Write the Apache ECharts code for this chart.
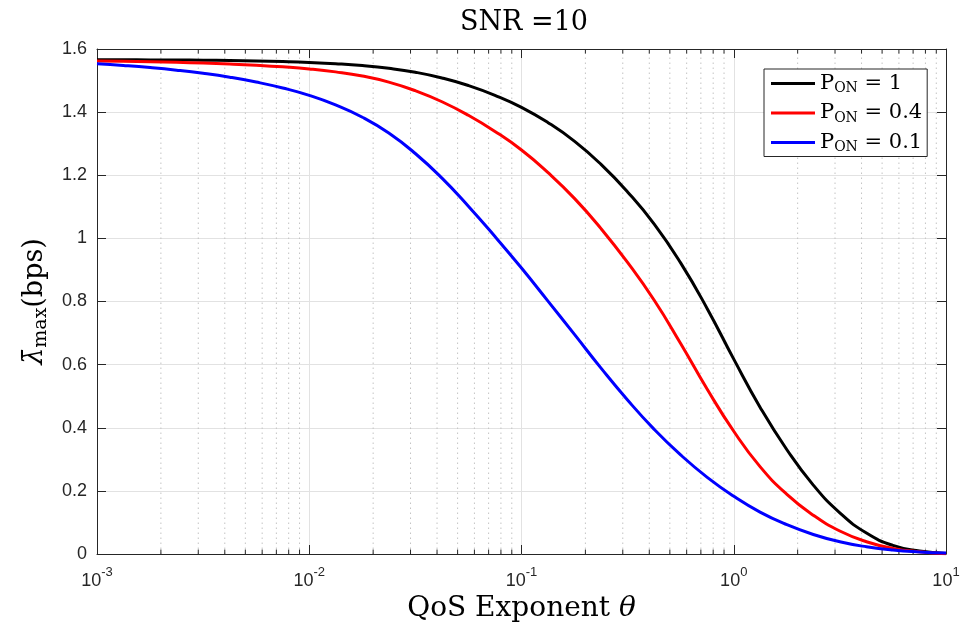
<!DOCTYPE html>
<html><head><meta charset="utf-8">
<script src="https://cdn.jsdelivr.net/npm/echarts@6/dist/echarts.min.js"></script>
<style>html,body{margin:0;padding:0;background:#fff}#c{width:966px;height:632px}</style>
</head><body><div id="c"></div>
<script>
// QoS exponent theta (x values, log axis, 8 points per decade)
const theta = [0.001, 0.00133, 0.00178, 0.00237, 0.00316, 0.00422, 0.00562, 0.0075,
               0.01, 0.0133, 0.0178, 0.0237, 0.0316, 0.0422, 0.0562, 0.075,
               0.1, 0.133, 0.178, 0.237, 0.316, 0.422, 0.562, 0.75,
               1, 1.33, 1.78, 2.37, 3.16, 4.22, 5.62, 7.5, 10];
// lambda_max (bps) for each P_ON
const pOn1  = [1.566, 1.5658, 1.5655, 1.5651, 1.5644, 1.5635, 1.5621, 1.5601,
               1.5573, 1.5533, 1.5474, 1.5388, 1.5263, 1.5083, 1.4843, 1.4533,
               1.4153, 1.3673, 1.3073, 1.2343, 1.1473, 1.0453, 0.9223, 0.7773,
               0.6173, 0.4653, 0.3303, 0.2183, 0.1303, 0.0663, 0.0273, 0.0093, 0.0018];
const pOn04 = [1.562, 1.561, 1.5596, 1.5578, 1.5555, 1.5525, 1.5486, 1.5435,
               1.5369, 1.5275, 1.5142, 1.4951, 1.4679, 1.4329, 1.3899, 1.3389,
               1.2799, 1.2089, 1.1259, 1.0309, 0.9239, 0.8039, 0.6669, 0.5219,
               0.3889, 0.2769, 0.1889, 0.1229, 0.0729, 0.0389, 0.0179, 0.0069, 0.0009];
const pOn01 = [1.553, 1.5477, 1.5411, 1.533, 1.523, 1.5106, 1.4953, 1.4764,
               1.453, 1.4228, 1.3839, 1.3337, 1.2689, 1.1909, 1.1019, 1.0059,
               0.9059, 0.8019, 0.6949, 0.5889, 0.4879, 0.3949, 0.3139, 0.2429,
               0.1829, 0.1329, 0.0929, 0.0619, 0.0389, 0.0229, 0.0124, 0.0064, 0.0029];
const seriesNames = ['P_ON = 1', 'P_ON = 0.4', 'P_ON = 0.1'];
const seriesValues = [pOn1, pOn04, pOn01];
const seriesColors = ['#000000', '#ff0000', '#0000ff'];
// axis settings
const xMin = 0.001, xMax = 10;
const yMin = 0, yMax = 1.6, yStep = 0.2;
const decades = [0.001, 0.01, 0.1, 1];
const minorMult = [2, 3, 4, 5, 6, 7, 8, 9];
const minorTheta = [];
decades.forEach(d => minorMult.forEach(m => minorTheta.push(+(d * m).toPrecision(3))));

const axisColor = '#262626';
const sans = 'Liberation Sans, Arial, sans-serif';
const serif = 'DejaVu Serif, serif';

const chart = echarts.init(document.getElementById('c'), null, {renderer: 'canvas'});

const lineSeries = seriesNames.map((name, i) => ({
  name: name,
  type: 'line',
  xAxisIndex: 0, yAxisIndex: 0,
  data: theta.map((t, k) => [t, seriesValues[i][k]]),
  symbol: 'none',
  smooth: 0.5,
  lineStyle: {color: seriesColors[i], width: 3},
  itemStyle: {color: seriesColors[i]},
  z: 3
}));

const minorSeries = {
  type: 'custom',
  xAxisIndex: 0, yAxisIndex: 0,
  silent: true,
  z: 1,
  data: minorTheta.map(v => [v, yMin]),
  renderItem: function (params, api) {
    const v = api.value(0);
    const b = api.coord([v, yMin]);
    const t = api.coord([v, yMax]);
    return {
      type: 'group',
      children: [
        {type: 'line', shape: {x1: b[0], y1: b[1], x2: t[0], y2: t[1]}, style: {stroke: '#c4c4c4', lineWidth: 1, lineDash: [1.5, 3.5]}},
        {type: 'line', shape: {x1: b[0], y1: b[1], x2: b[0], y2: b[1] - 4.5}, style: {stroke: axisColor, lineWidth: 1}},
        {type: 'line', shape: {x1: t[0], y1: t[1], x2: t[0], y2: t[1] + 4.5}, style: {stroke: axisColor, lineWidth: 1}}
      ]
    };
  }
};

const option = {
  backgroundColor: '#ffffff',
  animation: false,
  title: {
    text: 'SNR =10',
    left: 519, top: 4, textAlign: 'center',
    textStyle: {fontFamily: serif, fontSize: 27, fontWeight: 'normal', color: '#000'}
  },
  grid: {left: 97, right: 20, top: 49, bottom: 78},
  legend: {
    data: seriesNames,
    orient: 'vertical',
    left: 764, top: 69,
    padding: [4, 5, 2, 7],
    itemGap: 7,
    itemWidth: 44, itemHeight: 3,
    icon: 'rect',
    borderColor: axisColor, borderWidth: 1,
    backgroundColor: '#ffffff',
    formatter: function (n) {
      const v = n.split('= ')[1];
      return '{p|P}{s|ON}{p| = ' + v + '}';
    },
    textStyle: {
      fontFamily: serif, fontSize: 21, color: '#000',
      rich: {
        p: {fontFamily: serif, fontSize: 21, lineHeight: 24, color: '#000'},
        s: {fontFamily: serif, fontSize: 14, lineHeight: 14, verticalAlign: 'bottom', color: '#000'}
      }
    }
  },
  xAxis: [
    {
      type: 'log', logBase: 10, min: xMin, max: xMax, position: 'bottom',
      name: '{n|QoS Exponent }{i|θ}', nameLocation: 'middle', nameGap: 35,
      nameTextStyle: {rich: {
        n: {fontFamily: serif, fontSize: 28, color: '#000'},
        i: {fontFamily: serif, fontSize: 28, fontStyle: 'italic', color: '#000'}
      }},
      axisLine: {show: true, onZero: false, lineStyle: {color: axisColor, width: 1}},
      axisTick: {show: true, inside: true, length: 9, lineStyle: {color: axisColor}},
      axisLabel: {
        margin: 12,
        formatter: function (v) { return '{b|10}{s|' + Math.round(Math.log10(v)) + '}'; },
        rich: {
          b: {fontFamily: sans, fontSize: 18, lineHeight: 30, color: axisColor},
          s: {fontFamily: sans, fontSize: 13, lineHeight: 12, verticalAlign: 'top', color: axisColor}
        }
      },
      splitLine: {show: true, lineStyle: {color: '#e2e2e2', width: 1}}
    },
    {
      type: 'log', logBase: 10, min: xMin, max: xMax, position: 'top',
      axisLine: {show: true, onZero: false, lineStyle: {color: axisColor, width: 1}},
      axisTick: {show: true, inside: true, length: 9, lineStyle: {color: axisColor}},
      axisLabel: {show: false},
      splitLine: {show: false}
    }
  ],
  yAxis: [
    {
      type: 'value', min: yMin, max: yMax, interval: yStep, position: 'left',
      name: '{g|λ̄}{s|max}{l|(bps)}', nameLocation: 'middle', nameRotate: 90, nameGap: 46,
      nameTextStyle: {rich: {
        g: {fontFamily: serif, fontSize: 27, fontStyle: 'italic', lineHeight: 32, color: '#000'},
        l: {fontFamily: serif, fontSize: 27, lineHeight: 32, color: '#000'},
        s: {fontFamily: serif, fontSize: 19, lineHeight: 18, verticalAlign: 'bottom', color: '#000'}
      }},
      axisLine: {show: true, onZero: false, lineStyle: {color: axisColor, width: 1}},
      axisTick: {show: true, inside: true, length: 9, lineStyle: {color: axisColor}},
      axisLabel: {margin: 10, fontFamily: sans, fontSize: 18, color: axisColor},
      splitLine: {show: true, lineStyle: {color: '#e2e2e2', width: 1}}
    },
    {
      type: 'value', min: yMin, max: yMax, interval: yStep, position: 'right',
      axisLine: {show: true, onZero: false, lineStyle: {color: axisColor, width: 1}},
      axisTick: {show: true, inside: true, length: 9, lineStyle: {color: axisColor}},
      axisLabel: {show: false},
      splitLine: {show: false}
    }
  ],
  series: [minorSeries].concat(lineSeries)
};
chart.setOption(option);
</script>
</body></html>
